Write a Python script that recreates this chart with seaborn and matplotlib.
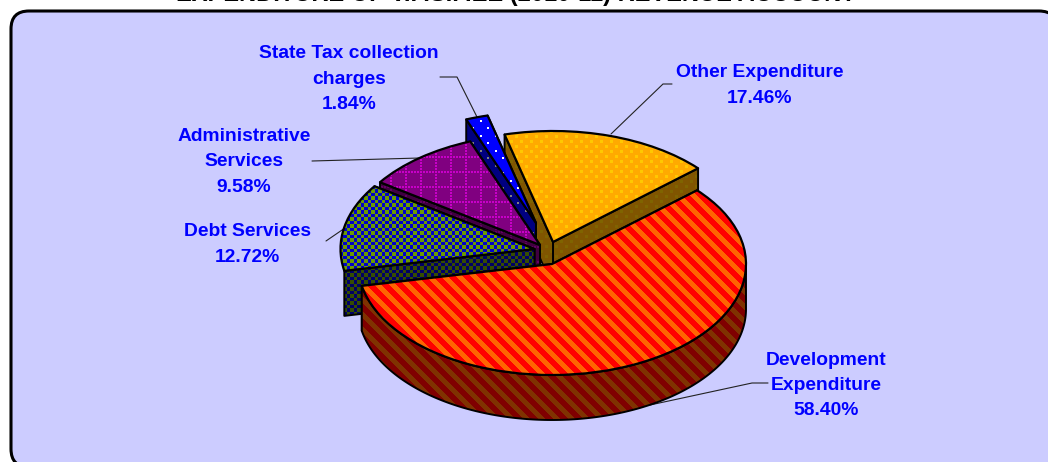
import numpy as np
import matplotlib
matplotlib.use("Agg")
import matplotlib.pyplot as plt
from matplotlib.patches import FancyBboxPatch, Polygon, Wedge
from matplotlib.transforms import Affine2D
import seaborn as sns

# ---- data ----
categories = ["Development\nExpenditure", "Debt Services", "Administrative\nServices",
              "State Tax collection\ncharges", "Other Expenditure"]
shares = [58.40, 12.72, 9.58, 1.84, 17.46]
title = "EXPENDITURE OF V.P.S.P.EE (2010-11) REVENUE ACCOUNT"

# ---- style / layout ----
sns.set_theme(style="white")
plt.rcParams["font.family"] = ["Liberation Sans", "DejaVu Sans"]
W, H = 1048, 462
RX, RY, DEPTH = 194, 111, 45
START = 41.6
centers = [(552, 264), (534.5, 249), (540, 245), (536, 223), (553, 242)]
order = [4, 3, 2, 1, 0]          # back to front
base = ["#FF0000", "#0000CC", "#800080", "#0000FF", "#FFAA00"]
over = ["#FF6400", "#6A9A00", "#C800C8", "#FFFFFF", "#FFC800"]
label_xy = [(826, 385.5), (247, 244.5), (244, 162), (349, 79), (760, 85.5)]
leaders = [[(768, 383), (752, 383), (650, 405)],
           [(326, 241), (345, 228)],
           [(312, 161), (420, 158)],
           [(440, 77), (457, 77), (477, 117)],
           [(672, 84), (663, 84), (611, 134)]]

yy, xx = np.mgrid[0:H, 0:W]
patterns = [
    ((xx - yy) % 15) < 7,
    ((np.floor(xx / 3.5) + np.floor(yy / 3.5)) % 2) == 0,
    ((xx % 15 < 2) & (yy % 3 < 2)) | (((yy + 9) % 15 < 2) & (xx % 3 < 2)),
    ((xx % 15 < 2) & (yy % 15 < 2)) | (((xx + 8) % 15 < 2) & ((yy + 8) % 15 < 2)),
    ((xx % 10 < 3) & (yy % 10 < 3)) | (((xx + 5) % 10 < 3) & ((yy + 5) % 10 < 3)),
]


def dark(c):
    return tuple(v * 0.5 for v in matplotlib.colors.to_rgb(c))


def overlay(ax, mask, color, clip, z):
    rgba = np.zeros((H, W, 4))
    rgba[..., :3] = matplotlib.colors.to_rgb(color)
    rgba[..., 3] = mask.astype(float)
    im = ax.imshow(rgba, extent=(0, W, H, 0), interpolation="nearest", zorder=z, aspect="auto")
    im.set_clip_path(clip)


fig = plt.figure(figsize=(W / 100, H / 100), dpi=100, facecolor="white")
ax = fig.add_axes([0, 0, 1, 1])

wedges, _ = ax.pie(shares, startangle=START, counterclock=False, radius=1, center=(0, 0),
                   colors=base, wedgeprops={"linewidth": 0})

ax.set_aspect("auto")
ax.set_xlim(0, W)
ax.set_ylim(H, 0)
ax.axis("off")

ax.add_patch(FancyBboxPatch((11, 11), 1046, 456, boxstyle="round,pad=0,rounding_size=18",
                            fc="#CCCCFF", ec="black", lw=2.2, zorder=0.2))
ax.text(516, 5.5, title, ha="center", va="bottom", fontsize=17, fontweight="bold", color="black", zorder=1)

for seg in leaders:
    xs, ys = zip(*seg)
    ax.plot(xs, ys, color="#222222", lw=0.8, zorder=0.5, solid_joinstyle="miter")


def side(ax, pts, i, z):
    poly = Polygon(pts, closed=True, fc=dark(base[i]), ec="none", zorder=z)
    ax.add_patch(poly)
    overlay(ax, patterns[i], dark(over[i]), poly, z + 0.001)
    ax.add_patch(Polygon(pts, closed=True, fc="none", ec="black", lw=1.4, zorder=z + 0.002,
                         joinstyle="round"))


for rank, i in enumerate(order):
    w = wedges[i]
    cx, cy = centers[i]
    z = 2 + rank
    t1, t2 = w.theta1, w.theta2

    def pt(a, dz=0):
        r = np.radians(a)
        return (cx + RX * np.cos(r), cy - RY * np.sin(r) + dz)

    # cut faces
    for k, a in enumerate(sorted((t1, t2), key=lambda v: (v - 41.0) % 360)):
        side(ax, [(cx, cy), pt(a), pt(a, DEPTH), (cx, cy + DEPTH)], i, z + 0.01 * k)
    # outer wall: only the part of the rim that faces the viewer, when it is wide enough to show
    ang = np.linspace(t1, t2, 240)
    ang = ang[np.sin(np.radians(ang)) <= 0]
    if len(ang) > 1 and ang[-1] - ang[0] > 20:
        wall = [pt(a) for a in ang] + [pt(a, DEPTH) for a in ang[::-1]]
        side(ax, wall, i, z + 0.05)
    # top face (the pie wedge itself, stretched into perspective)
    T = Affine2D().scale(RX, -RY).translate(cx, cy) + ax.transData
    w.set_transform(T)
    w.set_zorder(z + 0.1)
    w.set_clip_on(True)
    overlay(ax, patterns[i], over[i], w, z + 0.101)
    outline = Wedge((0, 0), 1, t1, t2, fc="none", ec="black", lw=1.6, zorder=z + 0.102,
                    transform=T, joinstyle="round")
    ax.add_patch(outline)

for name, v, (x, y) in zip(categories, shares, label_xy):
    ax.text(x, y, f"{name}\n{v:.2f}%", ha="center", va="center", color="#0000FF",
            fontsize=13.9, fontweight="bold", linespacing=1.63, zorder=20)

ax.set_xlim(0, W)
ax.set_ylim(H, 0)
fig.savefig("out.png", dpi=100)
